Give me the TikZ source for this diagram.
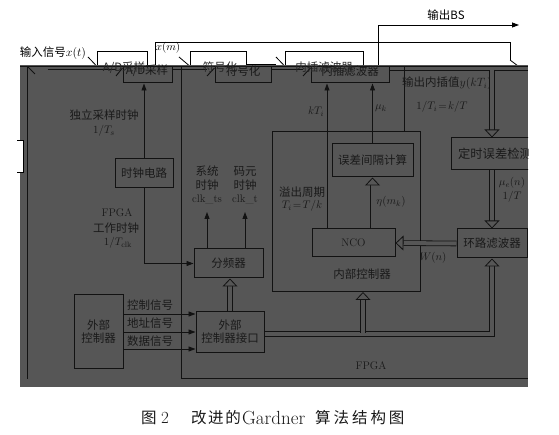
\documentclass[tikz,border=0pt]{standalone}
\usepackage{fontspec}
\newfontfamily\cjk{Noto Sans CJK SC}
\newfontfamily\cjkcapa[LetterSpace=10]{Noto Sans CJK SC}
\newfontfamily\cjkcapb[LetterSpace=19]{Noto Sans CJK SC}
\usetikzlibrary{arrows.meta,calc}
\definecolor{bgc}{RGB}{86,86,86}
\definecolor{lc}{RGB}{18,18,18}
\definecolor{tc}{RGB}{26,26,26}
\begin{document}
\begin{tikzpicture}[x=1pt,y=-1pt,
  ln/.style={draw=lc,line width=0.9pt},
  gln/.style={draw=black,line width=0.8pt},
  bx/.style={draw=lc,line width=1pt,inner sep=0pt,text=tc,font=\cjk\fontsize{11.5}{13}\selectfont},
  gbx/.style={draw=black,fill=white,line width=0.8pt},
  lab/.style={text=tc,inner sep=0pt,font=\cjk\fontsize{11.5}{13}\selectfont},
  mlab/.style={text=tc,inner sep=0pt,font=\fontsize{11}{13}\selectfont},
  captxt/.style={inner sep=0pt,anchor=west,text=black!90},
  arr/.style={ln,-{Triangle[length=7pt,width=5pt]}},
  hol/.style={draw=lc,line width=0.8pt,double=bgc,double distance=4pt,-{Triangle[length=8pt,width=15pt,fill=bgc]}},
]
\useasboundingbox (0,0) rectangle (559,435);
% ---------- ghost layer (white strip) ----------
\node[lab,text=black] (tin) at (53,53) {输入信号$x(t)$};
\node[gbx,minimum width=50pt,minimum height=24pt] (gad) at (122,63) {};
\node[gbx,minimum width=56pt,minimum height=24pt] (gfh) at (218,63) {};
\node[gbx,minimum width=78pt,minimum height=24pt] (gcz) at (324,63) {};
\coordinate (gin) at (22,66);
\draw[gln] (gin) -- (90,66);
\draw[gln] (88,57) -- (gad.west |- gin);
\coordinate (xm) at (155,66);
\coordinate (xmr) at (510,60);
\draw[gln] (xm) -- (155,42) -- (510,42) -- (xmr);
\draw[gln] (xmr) -- (518,66);
\node[mlab,text=black] (txm) at (168,48) {$x(m)$};
\draw[gln] (179,57) -- (gfh.west |- gin);
\draw[gln] (gfh.east |- 0,64) -- (276,64);
\draw[gln] (276,57) -- (gcz.west |- gin);
\coordinate (bs) at (378,66);
\coordinate (bse) at (519,25);
\draw[gln,-{Triangle[length=7pt,width=5pt]}] (bs) -- (bs |- bse) -- (bse);
\node[lab,text=black] (tbs) at (446,15) {输出BS};
% ---------- grey layer ----------
\fill[bgc] (20,65) rectangle (528,387);
\fill[white] (17,140) rectangle (23,172);
\draw[gln] (17,140) -- (23,140) -- (23,172) -- (17,172);
\begin{scope}
\clip (20,65) rectangle (528,387);
\draw[ln,line width=0.6pt] (20,66) -- (528,66);
% top row
\node[bx,minimum width=49pt,minimum height=16pt] (ad) at (147.5,75) {};
\node[bx,minimum width=56pt,minimum height=16pt] (fh) at (243,75) {};
\node[bx,minimum width=78pt,minimum height=16pt] (cz) at (350,75) {};
\node[lab] at (147,71) {A/D采样};
\node[lab] at (243,71) {符号化};
\node[lab] at (350,71) {内插滤波器};
\draw[ln] (28,67) -- (35,74);
\draw[ln] (48,69) -- (116,69);
\draw[ln] (116,76) -- (ad.west |- 0,68);
\draw[ln] (ad.east |- 0,69) -- (207,69);
\draw[ln] (207,76) -- (fh.west |- 0,68);
\draw[ln] (fh.east |- 0,69) -- (303,69);
\draw[ln] (303,76) -- (cz.west |- 0,68);
\coordinate (r1) at (528,70);
\draw[ln] (cz.east |- r1) -- (r1);
% frames
\draw[ln] (27,67) -- (27,379);
\draw[ln] (181,67) -- (181,378) -- (528,378);
\node[mlab] (tfpga) at (371,366) {FPGA};
\draw[ln] (404,67) -- (404,132);
% internal controller
\node[bx,minimum width=148pt,minimum height=160pt] (nbk) at (346,212) {};
\node[lab] (tnbk) at (362,274) {内部控制器};
\node[bx,minimum width=81pt,minimum height=33pt] (wc) at (372.5,160.5) {误差间隔计算};
\node[bx,minimum width=83pt,minimum height=28pt,font=\fontsize{11}{13}\selectfont] (nco) at (353.5,243) {NCO};
\node[bx,minimum width=88pt,minimum height=32pt,font=\cjk\fontsize{12.3}{13}\selectfont] (ds) at (495,154) {定时误差检测};
\node[bx,minimum width=70pt,minimum height=29pt] (lf) at (492,243.5) {环路滤波器};
\coordinate (ka) at (327,229);
\draw[arr] (ka) -- (ka |- cz.south);
\draw[arr] (wc.north) -- (wc.north |- cz.south);
\node[mlab] at (316,112) {$kT_i$};
\node[mlab] at (381,108) {$\mu_k$};
\draw[hol] (wc.south |- nco.north) -- (wc.south);
\node[mlab] at (391,202) {$\eta(m_k)$};
\node[lab] at (302,192) {溢出周期};
\node[mlab] at (302,206) {$T_i\!=\!T/k$};
\node[lab] at (447,83) {输出内插值$y(kT_i)$};
\node[mlab] at (442,107) {$1/T_i\!=\!k/T$};
\coordinate (tp) at (492,70);
\draw[hol] (tp) -- (tp |- ds.north);
\draw[hol] (tp |- ds.south) -- (lf.north);
\node[mlab] at (512,183) {$\mu_e(n)$};
\node[mlab] at (512,197) {$1/T$};
\draw[hol] (lf.west) -- (nco.east);
\node[mlab] at (433,258) {$W(n)$};
% clock part
\node[bx,minimum width=58pt,minimum height=29pt] (clk) at (144,173.5) {时钟电路};
\draw[arr] (clk.north) -- (clk.north |- ad.south);
\node[lab] at (104,115) {独立采样时钟};
\node[mlab] at (104,131) {$1/T_s$};
\node[bx,minimum width=69pt,minimum height=29pt] (fp) at (228.5,263.5) {分频器};
\draw[arr] (clk.south) |- (fp.west);
\node[mlab] at (117,213) {FPGA};
\node[lab] at (116,228) {工作时钟};
\node[mlab] at (118,243) {$1/T_{\mathrm{clk}}$};
\coordinate (c1) at (207,212);
\coordinate (c2) at (245,212);
\draw[arr] (fp.north -| c1) -- (c1);
\draw[arr] (fp.north -| c2) -- (c2);
\node[lab] at (207,171) {系统};
\node[lab] at (207,185) {时钟};
\node[mlab] at (207,199) {clk\_ts};
\node[lab] at (245,171) {码元};
\node[lab] at (245,185) {时钟};
\node[mlab] at (245,199) {clk\_t};
% external controller
\node[bx,minimum width=49pt,minimum height=73pt,align=center] (ec) at (98.5,331.5) {外部\\控制器};
\node[bx,minimum width=68pt,minimum height=40pt,align=center] (ei) at (230,332) {外部\\控制器接口};
\coordinate (y1) at (0,314);
\coordinate (y2) at (0,332);
\coordinate (y3) at (0,349);
\draw[arr] (ec.east |- y1) -- (ei.west |- y1);
\draw[arr] (ec.east |- y2) -- (ei.west |- y2);
\draw[arr] (ec.east |- y3) -- (ei.west |- y3);
\node[lab] at (150,305) {控制信号};
\node[lab] at (150,323) {地址信号};
\node[lab] at (150,341) {数据信号};
\draw[hol] (ei.north) -- (ei.north |- fp.south);
\coordinate (bus) at (0,334);
\coordinate (nb) at (363,292);
\draw[hol] (ei.east |- bus) -- (lf.south |- bus) -- (lf.south);
\draw[hol] ($(nb |- bus)+(0,-1.5)$) -- (nb);
\end{scope}
% ghost texts on the boundary
\node[lab,text=black!85] at (124,68) {A/D采样};
\node[lab,text=black!85] at (220,67) {符号化};
\node[lab,text=black!85] at (324,67) {内插滤波器};
% caption
\node[captxt,font=\cjk\fontsize{15.5}{17}\selectfont] (cap1) at (141,418) {图};
\node[captxt,font=\fontsize{17}{18}\selectfont] (cap2) at (161,418) {2};
\node[captxt,font=\cjkcapa\fontsize{15.5}{17}\selectfont] (cap3) at (191,418) {改进的};
\node[captxt,font=\fontsize{19}{20}\selectfont] (cap4) at (242,418) {Gardner};
\node[captxt,font=\cjkcapb\fontsize{15.5}{17}\selectfont] (cap5) at (315,418) {算法结构图};
\end{tikzpicture}
\end{document}
